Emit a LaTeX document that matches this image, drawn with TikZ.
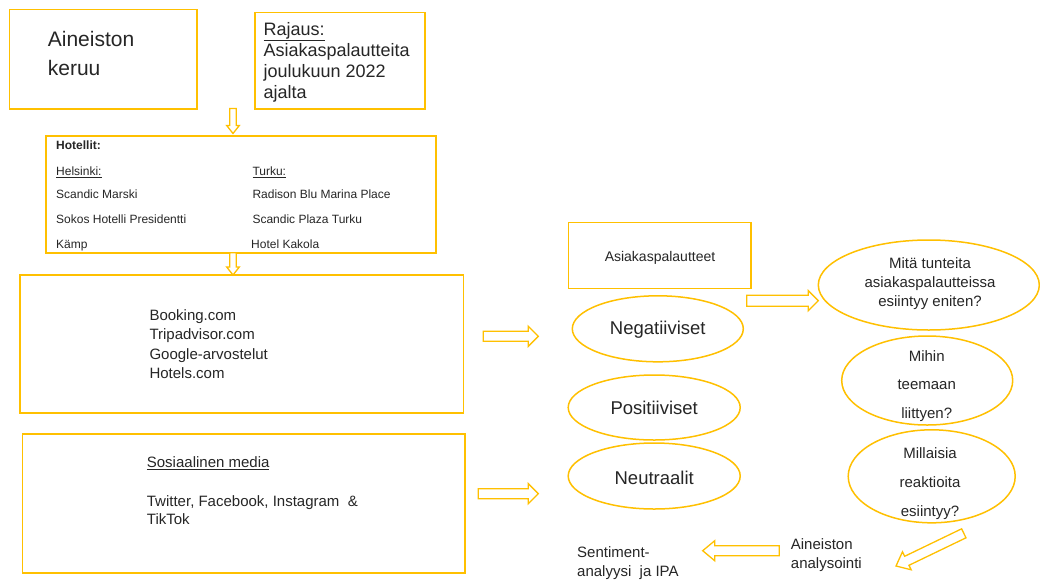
\documentclass[tikz,border=0pt]{standalone}
\usepackage{fontspec}
\setmainfont{Liberation Sans}
\usetikzlibrary{shapes.geometric,calc}
\definecolor{gold}{RGB}{255,192,0}
\definecolor{ink}{RGB}{38,38,38}
\newcommand{\blockarrow}[5]{%
  \coordinate (bah) at ($(#2)!#5!(#1)$);
  \draw[barrow] ($(#1)!#3!90:(#2)$) -- ($(bah)!#3!90:(#2)$) -- ($(bah)!#4!90:(#2)$) -- (#2)
     -- ($(bah)!#4!-90:(#2)$) -- ($(bah)!#3!-90:(#2)$) -- ($(#1)!#3!-90:(#2)$) -- cycle;}
\begin{document}
\begin{tikzpicture}[x=1pt,y=-1pt,
  box/.style={draw=gold, line width=1.6pt, inner sep=0pt, rectangle},
  ell/.style={ellipse, draw=gold, line width=1.5pt, inner sep=0pt},
  barrow/.style={draw=gold, line width=1.3pt, fill=white, line join=miter},
  txt/.style={inner sep=0pt, anchor=base west, text=ink},
  ctxt/.style={inner sep=0pt, anchor=base, text=ink},
  fA/.style={font=\fontsize{21pt}{25pt}\selectfont},
  fB/.style={font=\fontsize{18pt}{21pt}\selectfont},
  fC/.style={font=\fontsize{12pt}{14pt}\selectfont},
  fD/.style={font=\fontsize{15pt}{18pt}\selectfont},
  fE/.style={font=\fontsize{14pt}{17pt}\selectfont},
  fF/.style={font=\fontsize{18.5pt}{22pt}\selectfont}]
\useasboundingbox (0,0) rectangle (1040,579);
\fill[white] (0,0) rectangle (1040,579);

% boxes
\node[box, minimum width=187.4pt, minimum height=99.7pt] (keruu) at (103,59.15) {};
\node[box, minimum width=170pt, minimum height=96.7pt] (rajaus) at (340,60.65) {};
\node[box, minimum width=390pt, minimum height=116.7pt] (hotels) at (241,194.35) {};
\node[box, minimum width=443.3pt, minimum height=137.7pt] (sites) at (241.65,343.85) {};
\node[box, minimum width=442.7pt, minimum height=138.7pt] (some) at (243.65,503.35) {};
\node[box, minimum width=182.4pt, minimum height=66pt] (asp) at (659.5,255.3) {};

% ellipses
\node[ell, minimum width=171pt, minimum height=66pt] (neg) at (657.8,328.8) {};
\node[ell, minimum width=172pt, minimum height=65pt] (pos) at (654.2,407.5) {};
\node[ell, minimum width=172pt, minimum height=66pt] (neu) at (654.2,476) {};
\node[ell, minimum width=221pt, minimum height=90pt] (q1) at (928.8,285) {};
\node[ell, minimum width=171pt, minimum height=89pt] (q2) at (927.2,380.5) {};
\node[ell, minimum width=167pt, minimum height=93pt] (q3) at (931.7,476.3) {};

% texts
\node[txt,fA] (t1a) at (47.7,46.8) {Aineiston};
\node[txt,fA] (t1b) at (47.7,75.8) {keruu};

\node[txt,fB] (t2a) at (263.3,35.4) {\underline{Rajaus:}};
\node[txt,fB] (t2b) at (263.3,56.4) {Asiakaspalautteita};
\node[txt,fB] (t2c) at (263.3,77.4) {joulukuun 2022};
\node[txt,fB] (t2d) at (263.3,98.4) {ajalta};

\node[txt,fC] (h0) at (56,149.9) {\textbf{Hotellit:}};
\node[txt,fC] (h1) at (56,175.6) {\underline{Helsinki:}};
\node[txt,fC] (h2) at (56,198.9) {Scandic Marski};
\node[txt,fC] (h3) at (56,223.2) {Sokos Hotelli Presidentti};
\node[txt,fC] (h4) at (56,248.2) {Kämp};
\node[txt,fC] (k1) at (252.3,175.6) {\underline{Turku:}};
\node[txt,fC] (k2) at (252.3,198.9) {Radison Blu Marina Place};
\node[txt,fC] (k3) at (252.3,223.2) {Scandic Plaza Turku};
\node[txt,fC] (k4) at (251,248.2) {Hotel Kakola};

\node[txt,fD] (s1) at (149.3,320.4) {Booking.com};
\node[txt,fD] (s2) at (149.3,339.7) {Tripadvisor.com};
\node[txt,fD] (s3) at (149.3,359.1) {Google-arvostelut};
\node[txt,fD] (s4) at (149.3,378.2) {Hotels.com};

\node[txt,fD] (m1) at (146.7,467.7) {\underline{Sosiaalinen media}};
\node[txt,fD] (m2) at (146.7,506.1) {Twitter, Facebook, Instagram \ \&};
\node[txt,fD] (m3) at (146.7,524.7) {TikTok};

\node[ctxt,fE] (asptxt) at (660,261) {Asiakaspalautteet};
\node[ctxt,fF] (negtxt) at (657.8,334.9) {Negatiiviset};
\node[ctxt,fF] (postxt) at (654.2,414.6) {Positiiviset};
\node[ctxt,fF] (neutxt) at (654.2,484.4) {Neutraalit};

\node[ctxt,fD] (q1a) at (930,268.7) {Mitä tunteita};
\node[ctxt,fD] (q1b) at (930,287.7) {asiakaspalautteissa};
\node[ctxt,fD] (q1c) at (930,306.2) {esiintyy eniten?};

\node[ctxt,fD] (q2a) at (926.7,361.4) {Mihin};
\node[ctxt,fD] (q2b) at (926.7,389.7) {teemaan};
\node[ctxt,fD] (q2c) at (926.7,418.7) {liittyen?};

\node[ctxt,fD] (q3a) at (930,458.7) {Millaisia};
\node[ctxt,fD] (q3b) at (930,487.1) {reaktioita};
\node[ctxt,fD] (q3c) at (930,516.1) {esiintyy?};

\node[txt,fD] (an1) at (790.7,549.4) {Aineiston};
\node[txt,fD] (an2) at (790.7,568.4) {analysointi};
\node[txt,fD] (se1) at (577,557.4) {Sentiment-};
\node[txt,fD] (se2) at (577,576.4) {analyysi \ ja IPA};

% block arrows
\coordinate (d1a) at (233,108.5); \coordinate (d1b) at (233,133.5);
\coordinate (d2a) at (233,252.7); \coordinate (d2b) at (233,275);
\coordinate (r1a) at (483.3,336.3); \coordinate (r1b) at (538.3,336.3);
\coordinate (r2a) at (478.3,493.7); \coordinate (r2b) at (538.3,493.7);
\coordinate (r3a) at (746.7,300.7); \coordinate (r3b) at (818.3,300.7);
\coordinate (l1a) at (779.3,550.7); \coordinate (l1b) at (702.7,550.7);
\coordinate (g1a) at (963.8,533.3); \coordinate (g1b) at (896,566);

\blockarrow{d1a}{d1b}{3.3pt}{6.3pt}{8pt}
\blockarrow{d2a}{d2b}{3.3pt}{6.3pt}{8pt}
\blockarrow{r1a}{r1b}{5pt}{10pt}{10pt}
\blockarrow{r2a}{r2b}{5pt}{10pt}{10pt}
\blockarrow{r3a}{r3b}{5.5pt}{10pt}{10pt}
\blockarrow{l1a}{l1b}{5pt}{10pt}{12pt}
\blockarrow{g1a}{g1b}{5pt}{10pt}{12pt}
\end{tikzpicture}
\end{document}
